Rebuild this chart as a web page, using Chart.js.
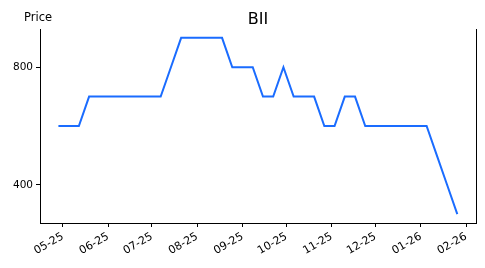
<!DOCTYPE html>
<html>
<head>
<meta charset="utf-8">
<script src="https://cdn.jsdelivr.net/npm/chart.js@4"></script>
<style>
  html, body { margin: 0; padding: 0; background: #fff; }
  #wrap { width: 485px; height: 268px; }
</style>
</head>
<body>
<div id="wrap"><canvas id="priceChart" width="485" height="268"></canvas></div>
<script>
// weekly closes
const dates = [
  "2025-04-28", "2025-05-05", "2025-05-12", "2025-05-19", "2025-05-26",
  "2025-06-02", "2025-06-09", "2025-06-16", "2025-06-23", "2025-06-30",
  "2025-07-07", "2025-07-14", "2025-07-21", "2025-07-28", "2025-08-04",
  "2025-08-11", "2025-08-18", "2025-08-25", "2025-09-01", "2025-09-08",
  "2025-09-15", "2025-09-22", "2025-09-29", "2025-10-06", "2025-10-13",
  "2025-10-20", "2025-10-27", "2025-11-03", "2025-11-10", "2025-11-17",
  "2025-11-24", "2025-12-01", "2025-12-08", "2025-12-15", "2025-12-22",
  "2025-12-29", "2026-01-05", "2026-01-12", "2026-01-19", "2026-01-26"
];
const prices = [
  600, 600, 600, 700, 700, 700, 700, 700, 700, 700,
  700, 800, 900, 900, 900, 900, 900, 800, 800, 800,
  700, 700, 800, 700, 700, 700, 600, 600, 700, 700,
  600, 600, 600, 600, 600, 600, 600, 500, 400, 300
];
const xTickDates = [
  "2025-05-01", "2025-06-01", "2025-07-01", "2025-08-01", "2025-09-01",
  "2025-10-01", "2025-11-01", "2025-12-01", "2026-01-01", "2026-02-01"
];
const yTicks = [400, 800];

const DAY = 86400000;
const toDay = s => Date.parse(s + "T00:00:00Z") / DAY;
const fmt = d => {
  const dt = new Date(d * DAY);
  const mm = String(dt.getUTCMonth() + 1).padStart(2, "0");
  const yy = String(dt.getUTCFullYear()).slice(2);
  return mm + "-" + yy;
};

const points = dates.map((d, i) => ({ x: toDay(d), y: prices[i] }));
const xFirst = points[0].x, xLast = points[points.length - 1].x;

const font = "'DejaVu Sans', sans-serif";

// title + "Price" label
const textPlugin = {
  id: "texts",
  afterDraw(chart) {
    const c = chart.ctx, a = chart.chartArea;
    c.save();
    c.fillStyle = "#000";
    c.textAlign = "center";
    c.textBaseline = "alphabetic";
    c.font = "16px " + font;
    c.fillText("BII", (a.left + a.right) / 2, 24);
    c.font = "11.5px " + font;
    c.fillText("Price", 38, 20.7);
    c.restore();
  }
};

new Chart(document.getElementById("priceChart"), {
  type: "line",
  data: {
    datasets: [{
      data: points,
      borderColor: "#1a6cff",
      borderWidth: 2,
      pointRadius: 0,
      tension: 0,
      fill: false
    }]
  },
  options: {
    responsive: false,
    animation: false,
    layout: { padding: { top: 29, right: 9, left: 0, bottom: 0 } },
    plugins: { legend: { display: false }, tooltip: { enabled: false } },
    scales: {
      x: {
        type: "linear",
        min: xFirst - 12.6,
        max: xLast + 12.8,
        afterFit: s => { s.height = 45; },
        afterBuildTicks: s => { s.ticks = xTickDates.map(d => ({ value: toDay(d) })); },
        ticks: {
          callback: v => fmt(v),
          minRotation: 30, maxRotation: 30,
          color: "#000",
          padding: 3,
          font: { family: font, size: 11 }
        },
        grid: { drawOnChartArea: false, drawTicks: true, tickLength: 4, color: "#000" },
        border: { display: true, color: "#000", width: 1 }
      },
      y: {
        min: 270,
        max: 930,
        afterFit: s => { s.width = 40; },
        afterBuildTicks: s => { s.ticks = yTicks.map(v => ({ value: v })); },
        ticks: {
          color: "#000",
          padding: 3,
          font: { family: font, size: 10.5 }
        },
        grid: { drawOnChartArea: false, drawTicks: true, tickLength: 4, color: "#000" },
        border: { display: true, color: "#000", width: 1 }
      },
      yRight: {
        position: "right",
        min: 0, max: 1,
        afterFit: s => { s.width = 0; },
        ticks: { display: false },
        grid: { display: false },
        border: { display: true, color: "#000", width: 1 }
      }
    }
  },
  plugins: [textPlugin]
});
</script>
</body>
</html>
